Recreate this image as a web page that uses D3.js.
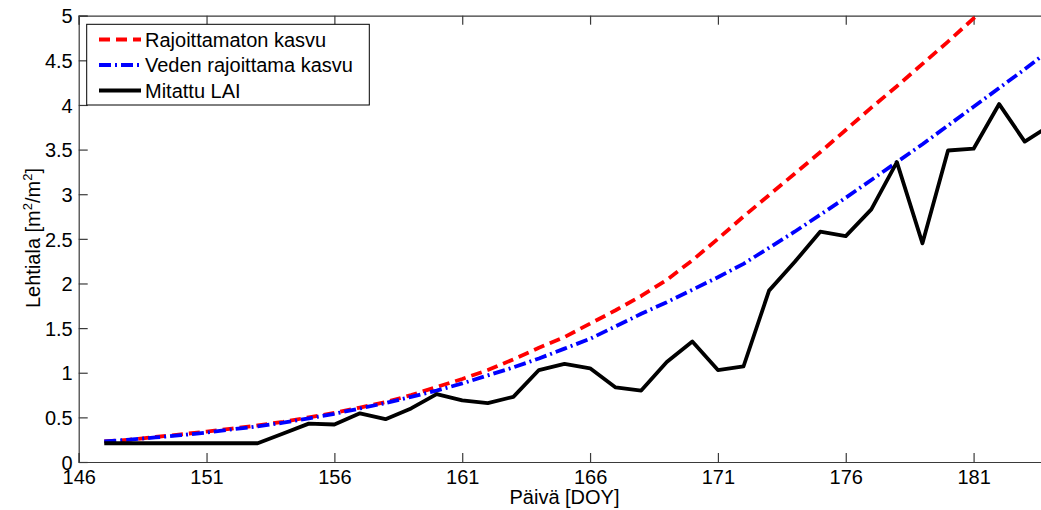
<!DOCTYPE html>
<html><head><meta charset="utf-8">
<script src="https://cdn.jsdelivr.net/npm/d3@7"></script>
<style>
html,body{margin:0;padding:0;background:#fff;overflow:hidden;}
svg{display:block;font-family:"Liberation Sans",Arial,Helvetica,sans-serif;}
</style></head>
<body>
<svg id="chart" width="1041" height="510"></svg>
<script>
const days = d3.range(147, 185);
const rajoittamaton = [0.23,0.25,0.28,0.31,0.34,0.375,0.41,0.45,0.50,0.55,0.61,0.67,0.75,0.84,0.93,1.03,1.15,1.28,1.40,1.55,1.70,1.86,2.04,2.26,2.50,2.75,2.99,3.23,3.47,3.72,3.97,4.21,4.46,4.71,4.97,5.22,5.48,5.74];
const vedenRajoittama = [0.23,0.25,0.275,0.30,0.33,0.365,0.40,0.44,0.49,0.54,0.60,0.66,0.73,0.80,0.88,0.97,1.06,1.16,1.27,1.38,1.52,1.66,1.79,1.93,2.07,2.22,2.40,2.58,2.77,2.96,3.16,3.36,3.56,3.77,3.98,4.19,4.40,4.62];
const mitattu = [0.21,0.21,0.21,0.21,0.21,0.21,0.21,0.32,0.43,0.42,0.545,0.48,0.60,0.76,0.69,0.66,0.73,1.03,1.10,1.05,0.835,0.80,1.12,1.35,1.03,1.07,1.92,2.24,2.58,2.53,2.83,3.36,2.45,3.49,3.51,4.01,3.59,3.77];
const xTicks = [146,151,156,161,166,171,176,181];
const yTicks = [0,0.5,1,1.5,2,2.5,3,3.5,4,4.5,5];
const seriesNames = ["Rajoittamaton kasvu","Veden rajoittama kasvu","Mitattu LAI"];

const svg = d3.select("#chart");
const L = 78.7, R = 1050.3, T = 15.7, B = 462;
const x = d3.scaleLinear().domain([146,184]).range([L,R]);
const y = d3.scaleLinear().domain([0,5]).range([B,T]);
const FS = 20;

svg.append("defs").append("clipPath").attr("id","clip")
  .append("rect").attr("x",L).attr("y",T).attr("width",R-L).attr("height",B-T);

const tickLen = 9;
const xb = svg.append("g").attr("transform",`translate(0,${B})`)
  .call(d3.axisBottom(x).tickValues(xTicks).tickSize(-tickLen).tickPadding(10).tickFormat(d3.format("d")));
const xt = svg.append("g").attr("transform",`translate(0,${T})`)
  .call(d3.axisTop(x).tickValues(xTicks).tickSize(-tickLen).tickFormat(""));
const yl = svg.append("g").attr("transform",`translate(${L},0)`)
  .call(d3.axisLeft(y).tickValues(yTicks).tickSize(-tickLen).tickPadding(6).tickFormat(d=>String(d)));
const yr = svg.append("g").attr("transform",`translate(${R},0)`)
  .call(d3.axisRight(y).tickValues(yTicks).tickSize(-tickLen).tickFormat(""));
[xb,xt,yl,yr].forEach(g=>{
  g.selectAll("path").attr("stroke","#3a3a3a").attr("stroke-width",1.2);
  g.selectAll("line").attr("stroke","#3a3a3a").attr("stroke-width",1.2);
  g.selectAll("text").attr("font-size",FS).attr("fill","#000").attr("font-family","Liberation Sans, Arial, sans-serif");
});
xb.selectAll("text").attr("dy","0.6em");
yl.selectAll("text").attr("dy","0.36em");

const plot = svg.append("g").attr("clip-path","url(#clip)");
const line = d3.line().x((d,i)=>x(days[i])).y(d=>y(d));
const styles = [
  {data:rajoittamaton, color:"#ff0000", dash:"11,6"},
  {data:vedenRajoittama, color:"#0000ff", dash:"12,4,2,4"},
  {data:mitattu, color:"#000000", dash:null}
];
styles.forEach(s=>{
  plot.append("path").datum(s.data).attr("d",line)
    .attr("fill","none").attr("stroke",s.color).attr("stroke-width",3.8)
    .attr("stroke-linejoin","round")
    .attr("stroke-dasharray",s.dash);
});

const lg = svg.append("g");
lg.append("rect").attr("x",86.7).attr("y",24.3).attr("width",282.6).attr("height",80.7)
  .attr("fill","#fff").attr("stroke","#000").attr("stroke-width",1);
const rowY = [39.5,65,90.5];
styles.forEach((s,i)=>{
  lg.append("line").attr("x1",99).attr("x2",141).attr("y1",rowY[i]).attr("y2",rowY[i])
    .attr("stroke",s.color).attr("stroke-width",3.8).attr("stroke-dasharray",s.dash);
  lg.append("text").attr("x",145).attr("y",rowY[i]+7.3).attr("font-size",FS).text(seriesNames[i]);
});

svg.append("text").attr("x",(L+R)/2).attr("y",504).attr("text-anchor","middle")
  .attr("font-size",FS).text("Päivä [DOY]");
const yt = svg.append("text").attr("transform","translate(40,238) rotate(-90)")
  .attr("text-anchor","middle").attr("font-size",FS);
yt.append("tspan").text("Lehtiala [m");
yt.append("tspan").attr("font-size",13).attr("dy",-8).text("2");
yt.append("tspan").attr("dy",8).text("/m");
yt.append("tspan").attr("font-size",13).attr("dy",-8).text("2");
yt.append("tspan").attr("dy",8).text("]");
</script>
</body></html>
